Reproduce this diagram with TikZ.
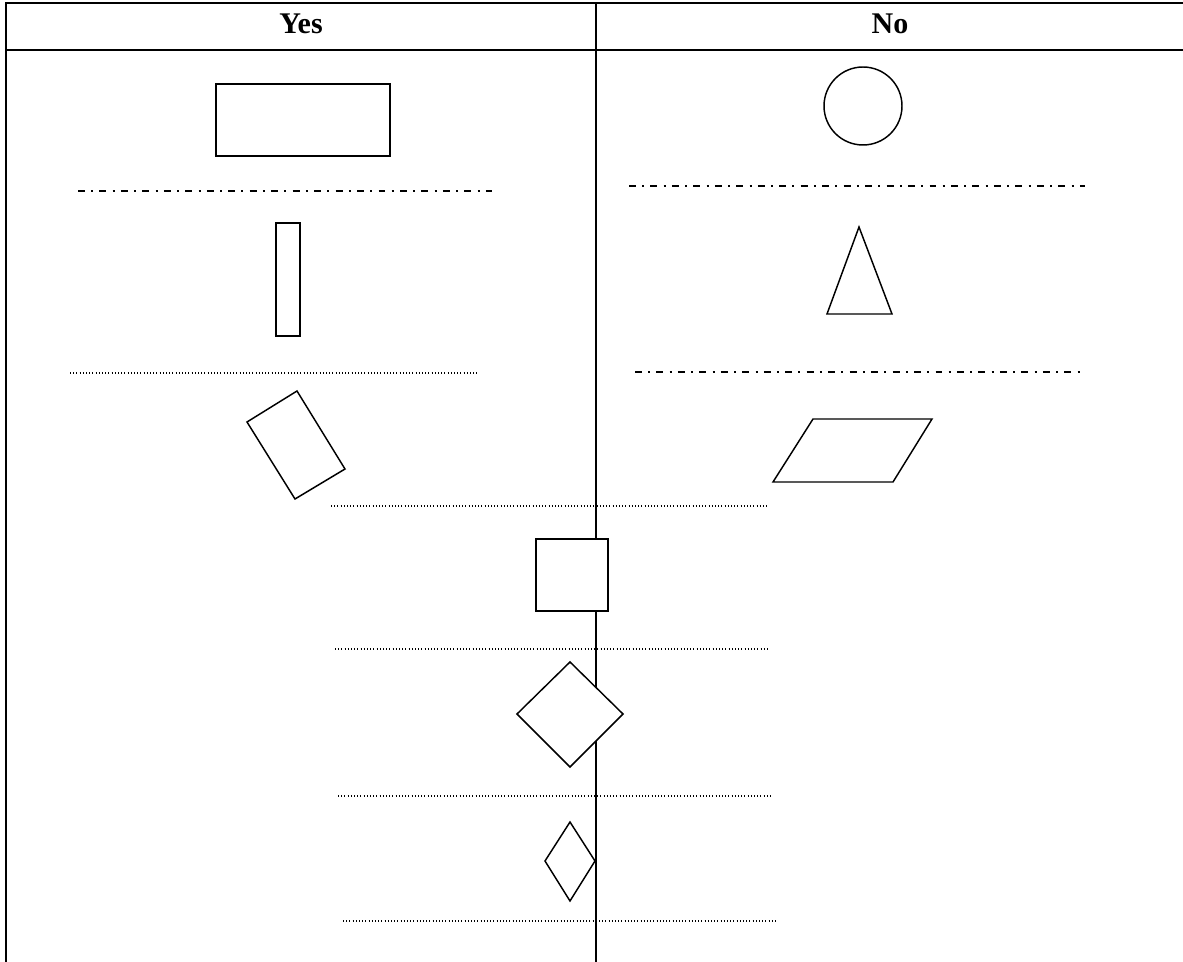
\documentclass[tikz,border=0pt]{standalone}
\usepackage{fontspec}
\setmainfont{Liberation Serif}
\definecolor{lnblack}{HTML}{000000}

\begin{document}
\begin{tikzpicture}[x=0.75pt,y=-0.75pt,
    tblline/.style={lnblack,line width=1.5pt},
    shapeline/.style={lnblack,line width=1.1pt,line join=miter},
    dashdotline/.style={lnblack,line width=1.4pt,
      dash pattern=on 5.2pt off 4.7pt on 1.5pt off 4.7pt},
    dotline/.style={lnblack,line width=0.8pt,dash pattern=on 0.8pt off 1.6pt},
    headtext/.style={font=\bfseries\fontsize{22.5}{27}\selectfont}]

  \useasboundingbox (0,0) rectangle (1183,962);

  % --- table frame ---
  \draw[tblline] (6,962) -- (6,3) -- (1183,3);
  \draw[tblline] (6,50) -- (1183,50);
  \draw[tblline] (596,3) -- (596,962);

  % headings
  \node[headtext] (yes) at (301,24) {Yes};
  \node[headtext] (no) at (890,24) {No};

  % --- left column ---
  \draw[shapeline] (216,84) rectangle (390,156);
  \draw[dashdotline] (78,191) -- (492,191);
  \draw[shapeline] (276,223) rectangle (300,336);
  \draw[dotline] (70,373) -- (478,373);
  \draw[shapeline] (247,422) -- (297,391) -- (345,469) -- (295,499) -- cycle;

  % --- right column ---
  \draw[shapeline] (863,106) circle[radius=29.25pt];
  \draw[dashdotline] (629,186) -- (1085,186);
  \draw[shapeline] (859,227) -- (892,314) -- (827,314) -- cycle;
  \draw[dashdotline] (635,372) -- (1083,372);
  \draw[shapeline] (813,419) -- (932,419) -- (893,482) -- (773,482) -- cycle;

  % --- across the divider ---
  \draw[dotline] (331,506) -- (769,506);
  \draw[shapeline,fill=white] (536,539) rectangle (608,611);
  \draw[dotline] (335,649) -- (769,649);
  \draw[shapeline,fill=white] (570,662) -- (623,714) -- (570,767) -- (517,714) -- cycle;
  \draw[dotline] (338,796) -- (772,796);
  \draw[shapeline] (570,822) -- (595,861) -- (570,901) -- (545,861) -- cycle;
  \draw[dotline] (343,921) -- (778,921);

\end{tikzpicture}
\end{document}
